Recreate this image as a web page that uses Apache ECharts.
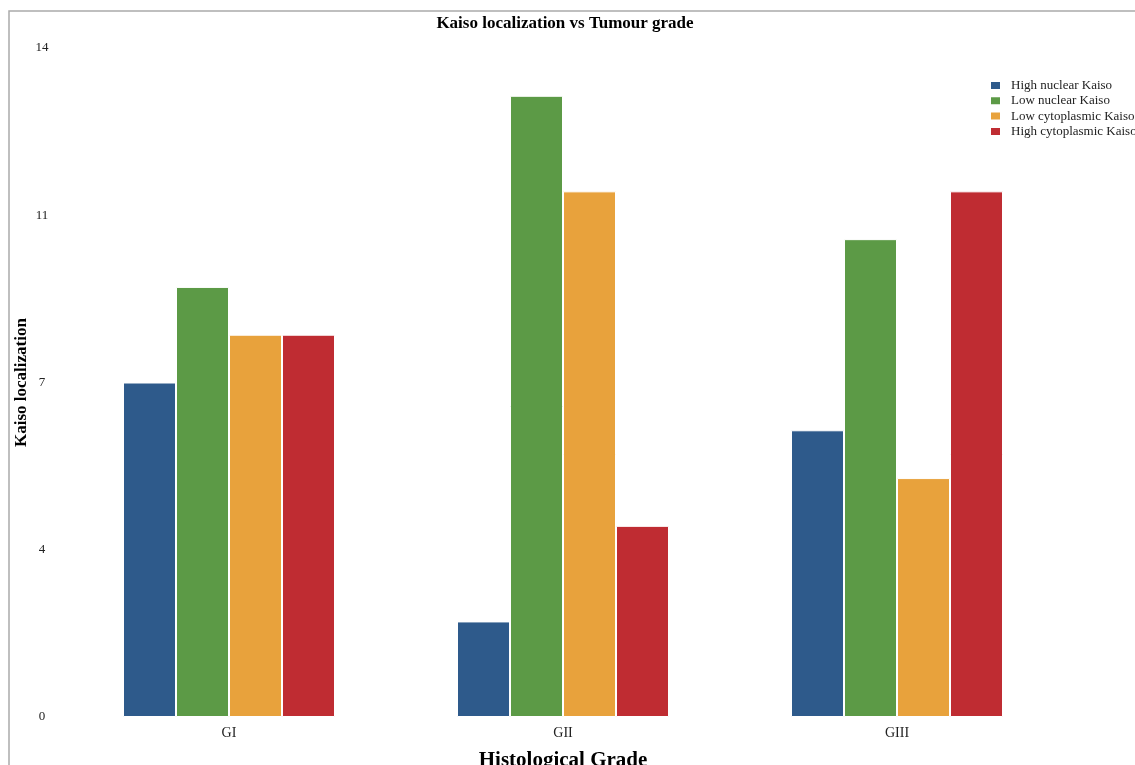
<!DOCTYPE html>
<html>
<head>
<meta charset="utf-8">
<script src="https://cdn.jsdelivr.net/npm/echarts@6/dist/echarts.min.js"></script>
<style>
html,body{margin:0;padding:0;background:#fff;overflow:hidden;}
#chart{width:1135px;height:765px;}
</style>
</head>
<body>
<div id="chart"></div>
<script>
const categories = ['GI', 'GII', 'GIII'];
const seriesNames = ['High nuclear Kaiso', 'Low nuclear Kaiso', 'Low cytoplasmic Kaiso', 'High cytoplasmic Kaiso'];
const highNuclear = [7, 2, 6];
const lowNuclear = [9, 13, 10];
const lowCytoplasmic = [8, 11, 5];
const highCytoplasmic = [8, 4, 11];
const colors = ['#2E5A8B', '#5C9A46', '#E8A23C', '#BF2C32'];

const values = [highNuclear, lowNuclear, lowCytoplasmic, highCytoplasmic];
const font = '"Liberation Serif", "Times New Roman", serif';

const chart = echarts.init(document.getElementById('chart'));
chart.setOption({
  animation: false,
  textStyle: { fontFamily: font },
  title: {
    text: 'Kaiso localization vs Tumour grade',
    left: 565, top: 15, textAlign: 'center', padding: 0,
    textStyle: { fontFamily: font, fontSize: 17, fontWeight: 'bold', color: '#000' }
  },
  graphic: [{
    type: 'polyline',
    shape: { points: [[9, 780], [9, 11], [1140, 11]] },
    style: { stroke: '#aaa', lineWidth: 1.5, fill: null },
    silent: true
  }],
  legend: {
    orient: 'vertical',
    left: 989, top: 78, padding: 0,
    itemWidth: 11, itemHeight: 9, itemGap: 0.3,
    icon: 'rect',
    data: seriesNames,
    textStyle: { fontFamily: font, fontSize: 13, lineHeight: 15, color: '#222', padding: [0, 0, 0, 5] }
  },
  grid: { left: 62, right: 71, top: 48, bottom: 48, containLabel: false, outerBoundsMode: 'none' },
  xAxis: {
    type: 'category',
    data: categories,
    name: 'Histological Grade',
    nameLocation: 'middle',
    nameGap: 33,
    nameMoveOverlap: false,
    nameTextStyle: { fontFamily: font, fontSize: 21, fontWeight: 'bold', color: '#000' },
    axisLine: { show: false },
    axisTick: { show: false },
    axisLabel: { fontFamily: font, fontSize: 14, color: '#222', margin: 9 }
  },
  yAxis: {
    type: 'value',
    min: 0, max: 14, interval: 3.5,
    name: 'Kaiso localization',
    nameLocation: 'middle',
    nameGap: 32,
    nameMoveOverlap: false,
    nameTextStyle: { fontFamily: font, fontSize: 17, fontWeight: 'bold', color: '#000' },
    axisLine: { show: false },
    axisTick: { show: false },
    splitLine: { show: false },
    axisLabel: {
      fontFamily: font, fontSize: 13, color: '#222', margin: 20, align: 'center',
      formatter: v => String(Math.round(v))
    }
  },
  series: seriesNames.map((n, i) => ({
    name: n,
    type: 'bar',
    data: values[i],
    barWidth: 53,
    barGap: '0%',
    itemStyle: { color: colors[i], borderColor: '#fff', borderWidth: 1 }
  }))
});
</script>
</body>
</html>
